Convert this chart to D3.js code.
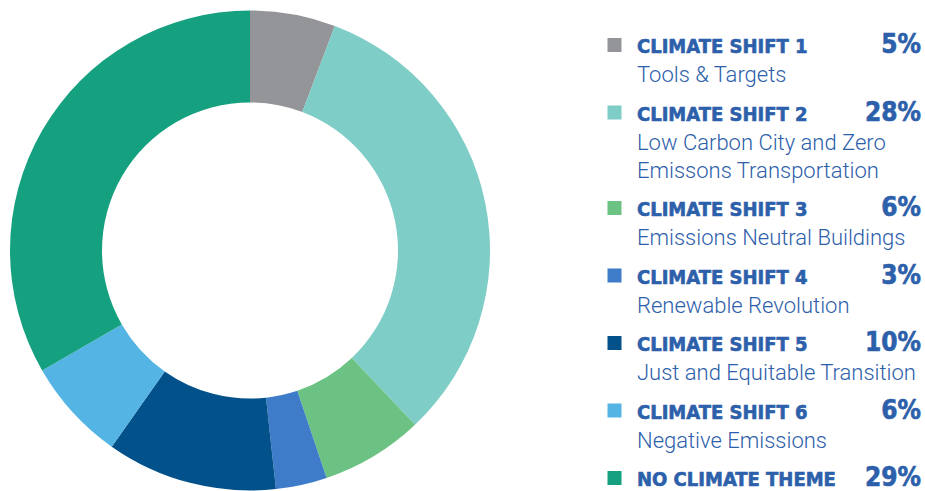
<!DOCTYPE html>
<html>
<head>
<meta charset="utf-8">
<script src="https://cdnjs.cloudflare.com/ajax/libs/d3/7.8.5/d3.min.js"></script>
<style>
	body { margin: 0; background: #fff; }
	svg { display: block; }
	.title { font-family: "DejaVu Sans Condensed", "DejaVu Sans"; font-weight: 900; font-stretch: condensed; stroke-width: 0.6; }
	.sub { font-family: Roboto, "Open Sans", sans-serif; font-weight: 300; }
</style>
</head>
<body>
<svg id="chart" width="925" height="491"></svg>
<script>
/* jshint devel:true */

var shifts = ['CLIMATE SHIFT 1', 'CLIMATE SHIFT 2', 'CLIMATE SHIFT 3', 'CLIMATE SHIFT 4', 'CLIMATE SHIFT 5', 'CLIMATE SHIFT 6', 'NO CLIMATE THEME'];
var shares = [5, 28, 6, 3, 10, 6, 29];
var descriptions = [
	['Tools & Targets'],
	['Low Carbon City and Zero', 'Emissons Transportation'],
	['Emissions Neutral Buildings'],
	['Renewable Revolution'],
	['Just and Equitable Transition'],
	['Negative Emissions'],
	[]
];
var colours = ['#939598', '#7ecdc7', '#6cc282', '#3e7cc9', '#02518a', '#54b5e4', '#15a07f'];

var CHART = CHART || {};

CHART.donut = {
	init: function () {

		var svg = d3.select('#chart');
		var textBlue = '#2d60aa';

		var rows = shifts.map(function (s, i) {
			return { name: s, value: shares[i], lines: descriptions[i], colour: colours[i] };
		});

		var pie = d3.pie().sort(null).value(function (d) { return d.value; });
		var arc = d3.arc().innerRadius(148).outerRadius(240);

		var g = svg.append('g').attr('transform', 'translate(250,250.5)');

		g.selectAll('path')
			.data(pie(rows))
			.enter().append('path')
			.attr('d', arc)
			.attr('fill', function (d) { return d.data.colour; });

		// legend
		var legend = svg.append('g');
		var y = 53;

		rows.forEach(function (r) {
			var item = legend.append('g').attr('transform', 'translate(0,' + y + ')');

			item.append('rect')
				.attr('x', 607.5).attr('y', -15)
				.attr('width', 14).attr('height', 14)
				.attr('fill', r.colour);

			item.append('text')
				.attr('class', 'title')
				.attr('x', 637).attr('y', 0)
				.attr('font-size', 20)
				.attr('fill', textBlue)
				.attr('stroke', textBlue)
				.text(r.name);

			item.append('text')
				.attr('class', 'title')
				.attr('x', 921).attr('y', 0)
				.attr('text-anchor', 'end')
				.attr('font-size', 26)
				.attr('fill', textBlue)
				.attr('stroke', textBlue)
				.text(r.value + '%');

			var ly = 0;
			r.lines.forEach(function (line, k) {
				ly += (k === 0) ? 29 : 28;
				item.append('text')
					.attr('class', 'sub')
					.attr('x', 637).attr('y', ly)
					.attr('font-size', 22)
					.attr('fill', textBlue)
					.text(line);
			});

			y += ly + 38.5;
		});

	}
};

CHART.donut.init();
</script>
</body>
</html>
